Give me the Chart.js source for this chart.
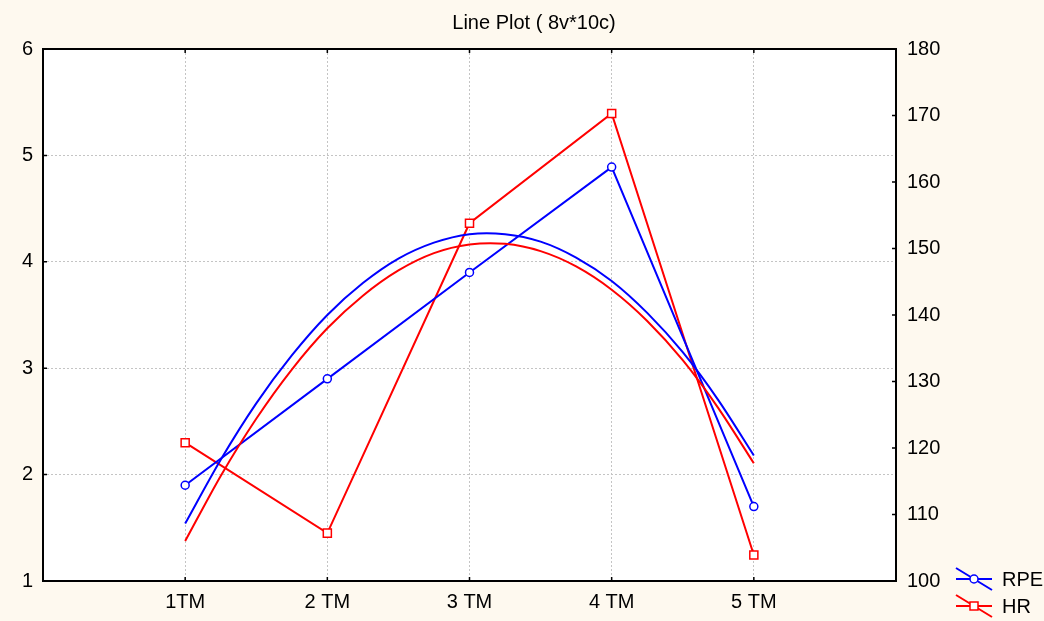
<!DOCTYPE html>
<html>
<head>
<meta charset="utf-8">
<script src="https://cdn.jsdelivr.net/npm/chart.js@4/dist/chart.umd.min.js"></script>
<style>
  html, body { margin: 0; padding: 0; background: #fef9ef; }
  canvas { display: block; }
</style>
</head>
<body>
<canvas id="myChart" width="1044" height="621"></canvas>
<script>
const categories = ['1TM', '2 TM', '3 TM', '4 TM', '5 TM'];
const rpe = [1.9, 2.9, 3.9, 4.89, 1.7];
const hr = [120.8, 107.2, 153.8, 170.3, 103.9];
// fitted curves at quarter steps
const fitX = [1, 1.25, 1.5, 1.75, 2, 2.25, 2.5, 2.75, 3, 3.25, 3.5, 3.75, 4, 4.25, 4.5, 4.75, 5];
const rpeFit = [1.54, 2.14, 2.67, 3.12, 3.5, 3.8, 4.03, 4.18, 4.26, 4.26, 4.19, 4.04, 3.82, 3.52, 3.15, 2.7, 2.18];
const hrFit = [106.0, 115.8, 124.4, 131.8, 138.0, 142.9, 146.7, 149.3, 150.6, 150.7, 149.6, 147.3, 143.8, 139.1, 133.2, 126.0, 117.7];
const leftTicks = [1, 2, 3, 4, 5, 6];
const rightTicks = [100, 110, 120, 130, 140, 150, 160, 170, 180];

const FONT = 'Liberation Sans, Arial, sans-serif';
const BLUE = '#0000ff';
const RED = '#ff0000';

const pts = (xs, ys) => ys.map((y, i) => ({ x: xs[i], y: y }));
const catX = categories.map((c, i) => i + 1);

const frame = {
    id: 'frame',
    beforeDraw(chart) {
        const { ctx, chartArea: a } = chart;
        ctx.save();
        ctx.fillStyle = '#fef9ef';
        ctx.fillRect(0, 0, chart.width, chart.height);
        ctx.fillStyle = '#ffffff';
        ctx.fillRect(a.left, a.top, a.right - a.left, a.bottom - a.top);
        ctx.restore();
    },
    afterDraw(chart) {
        const { ctx, chartArea: a, scales } = chart;
        ctx.save();
        ctx.strokeStyle = '#000';
        ctx.lineWidth = 2;
        ctx.strokeRect(a.left, a.top, a.right - a.left, a.bottom - a.top);
        // small tick marks pointing into the plot
        ctx.lineWidth = 1.5;
        ctx.beginPath();
        catX.forEach(v => {
            const x = scales.x.getPixelForValue(v);
            ctx.moveTo(x, a.bottom); ctx.lineTo(x, a.bottom - 4);
            ctx.moveTo(x, a.top); ctx.lineTo(x, a.top + 4);
        });
        leftTicks.forEach(v => {
            const y = scales.y.getPixelForValue(v);
            ctx.moveTo(a.left, y); ctx.lineTo(a.left + 4, y);
        });
        rightTicks.forEach(v => {
            const y = scales.y1.getPixelForValue(v);
            ctx.moveTo(a.right, y); ctx.lineTo(a.right - 4, y);
        });
        ctx.stroke();

        // title
        ctx.fillStyle = '#000';
        ctx.font = '20px ' + FONT;
        ctx.textAlign = 'center';
        ctx.textBaseline = 'middle';
        ctx.fillText('Line Plot ( 8v*10c)', 534, 23);

        // legend
        const items = [
            { label: 'RPE', color: BLUE, y: 579, style: 'circle' },
            { label: 'HR', color: RED, y: 606, style: 'rect' }
        ];
        items.forEach(it => {
            ctx.strokeStyle = it.color;
            ctx.lineWidth = 2;
            ctx.beginPath();
            ctx.moveTo(956, it.y); ctx.lineTo(992, it.y);
            ctx.moveTo(956, it.y - 11); ctx.lineTo(992, it.y + 11);
            ctx.stroke();
            ctx.fillStyle = '#fff';
            ctx.lineWidth = 1.5;
            ctx.beginPath();
            if (it.style === 'circle') {
                ctx.arc(974, it.y, 4, 0, Math.PI * 2);
            } else {
                ctx.rect(970, it.y - 4, 8, 8);
            }
            ctx.fill();
            ctx.stroke();
            ctx.fillStyle = '#000';
            ctx.font = '20px ' + FONT;
            ctx.textAlign = 'left';
            ctx.fillText(it.label, 1002, it.y + 1);
        });
        ctx.restore();
    }
};

new Chart(document.getElementById('myChart'), {
    type: 'line',
    data: {
        datasets: [
            {
                label: 'RPE fit',
                data: pts(fitX, rpeFit),
                yAxisID: 'y',
                borderColor: BLUE,
                borderWidth: 2,
                pointRadius: 0,
                tension: 0.3
            },
            {
                label: 'HR fit',
                data: pts(fitX, hrFit),
                yAxisID: 'y1',
                borderColor: RED,
                borderWidth: 2,
                pointRadius: 0,
                tension: 0.3
            },
            {
                label: 'RPE',
                data: pts(catX, rpe),
                yAxisID: 'y',
                borderColor: BLUE,
                backgroundColor: '#ffffff',
                borderWidth: 2,
                pointStyle: 'circle',
                pointRadius: 4,
                pointBorderWidth: 1.5,
                tension: 0
            },
            {
                label: 'HR',
                data: pts(catX, hr),
                yAxisID: 'y1',
                borderColor: RED,
                backgroundColor: '#ffffff',
                borderWidth: 2,
                pointStyle: 'rect',
                pointRadius: 5.7,
                pointBorderWidth: 1.5,
                tension: 0
            }
        ]
    },
    options: {
        responsive: false,
        animation: false,
        layout: { padding: { top: 49, left: 0, right: 0, bottom: 0 } },
        plugins: {
            legend: { display: false },
            title: { display: false },
            tooltip: { enabled: false }
        },
        scales: {
            x: {
                type: 'linear',
                min: 0,
                max: 6,
                afterFit: s => { s.height = 40; },
                ticks: {
                    stepSize: 1,
                    autoSkip: false,
                    maxRotation: 0,
                    padding: 9,
                    color: '#000',
                    font: { family: FONT, size: 20 },
                    callback: v => categories[v - 1] || ''
                },
                grid: {
                    drawTicks: false,
                    color: c => (c.tick && c.tick.value >= 1 && c.tick.value <= 5) ? '#c4c4c4' : 'rgba(0,0,0,0)'
                },
                border: { display: false, dash: [2, 2] }
            },
            y: {
                position: 'left',
                min: 1,
                max: 6,
                afterFit: s => { s.width = 43; },
                afterBuildTicks: s => { s.ticks = leftTicks.map(v => ({ value: v })); },
                ticks: {
                    padding: 10,
                    color: '#000',
                    font: { family: FONT, size: 20 }
                },
                grid: {
                    drawTicks: false,
                    color: c => (c.tick && c.tick.value > 1 && c.tick.value < 6) ? '#c4c4c4' : 'rgba(0,0,0,0)'
                },
                border: { display: false, dash: [2, 2] }
            },
            y1: {
                position: 'right',
                min: 100,
                max: 180,
                afterFit: s => { s.width = 148; },
                afterBuildTicks: s => { s.ticks = rightTicks.map(v => ({ value: v })); },
                ticks: {
                    padding: 11,
                    color: '#000',
                    font: { family: FONT, size: 20 }
                },
                grid: { display: false, drawTicks: false },
                border: { display: false }
            }
        }
    },
    plugins: [frame]
});
</script>
</body>
</html>
